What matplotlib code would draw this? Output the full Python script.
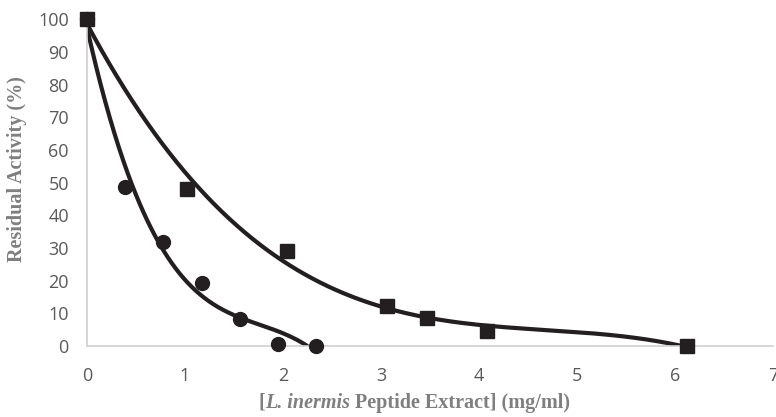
import numpy as np
import matplotlib
matplotlib.use('Agg')
import matplotlib.pyplot as plt

# concentration series (mg/ml) and residual activity (%)
conc_a = [0, 0.39, 0.78, 1.17, 1.56, 1.95, 2.34]
act_a = [100, 48.7, 31.8, 19.4, 8.3, 0.5, 0.0]

conc_b = [0, 1.02, 2.04, 3.06, 3.47, 4.08, 6.12]
act_b = [100, 48.2, 29.0, 12.2, 8.7, 4.6, 0.0]

x_ticks = [0, 1, 2, 3, 4, 5, 6, 7]
y_ticks = [0, 10, 20, 30, 40, 50, 60, 70, 80, 90, 100]

ink = '#231f20'
grey = '#595959'
title_grey = '#7f7f7f'

fig = plt.figure(figsize=(7.76, 4.17), dpi=100)
ax = fig.add_axes([0.112, 0.170, 0.884, 0.784])


def trend(x, y, deg):
    # polynomial trendline, cut off where it drops below zero
    p = np.polyfit(x, y, deg)
    xs = np.linspace(min(x), max(x), 400)
    ys = np.polyval(p, xs)
    keep = ys >= 0
    if not keep.all():
        stop = np.argmax(~keep)
        xs, ys = xs[:stop], ys[:stop]
    return xs, ys


xs, ys = trend(conc_a, act_a, 3)
ax.plot(xs, ys, color=ink, lw=3, solid_capstyle='round', zorder=2)
xs, ys = trend(conc_b, act_b, 3)
ax.plot(xs, ys, color=ink, lw=3, solid_capstyle='round', zorder=2)

ax.plot(conc_a, act_a, 'o', color=ink, ms=10, clip_on=False, zorder=3)
ax.plot(conc_b, act_b, 's', color=ink, ms=9.5, clip_on=False, zorder=3)

ax.set_xlim(0, 7)
ax.set_ylim(0, 100)
ax.set_xticks(x_ticks)
ax.set_yticks(y_ticks)
ax.tick_params(axis='x', length=0, labelsize=13, labelcolor=grey, pad=15)
ax.tick_params(axis='y', length=0, labelsize=13, labelcolor=grey, pad=13)
for lab in ax.get_xticklabels() + ax.get_yticklabels():
    lab.set_fontfamily('Open Sans')

for s in ['top', 'right']:
    ax.spines[s].set_visible(False)
for s in ['left', 'bottom']:
    ax.spines[s].set_color('#d0d0d0')
    ax.spines[s].set_linewidth(1.2)

# x title in three pieces so the species name can be italic
lab_kw = dict(fontsize=14.5, fontweight='bold', family='Liberation Serif', color=title_grey)
t1 = fig.text(258 / 776, 0.01, '[', ha='left', va='bottom', **lab_kw)
t2 = ax.annotate('L. inermis', xy=(1, 0), xycoords=t1, ha='left', va='bottom',
                 fontstyle='italic', annotation_clip=False, **lab_kw)
ax.annotate(' Peptide Extract] (mg/ml)', xy=(1, 0), xycoords=t2, ha='left', va='bottom',
            annotation_clip=False, **lab_kw)

ax.set_ylabel('Residual Activity (%)', **lab_kw)
ax.yaxis.set_label_coords(-0.088, 0.541)

fig.savefig('out.png', dpi=100)
